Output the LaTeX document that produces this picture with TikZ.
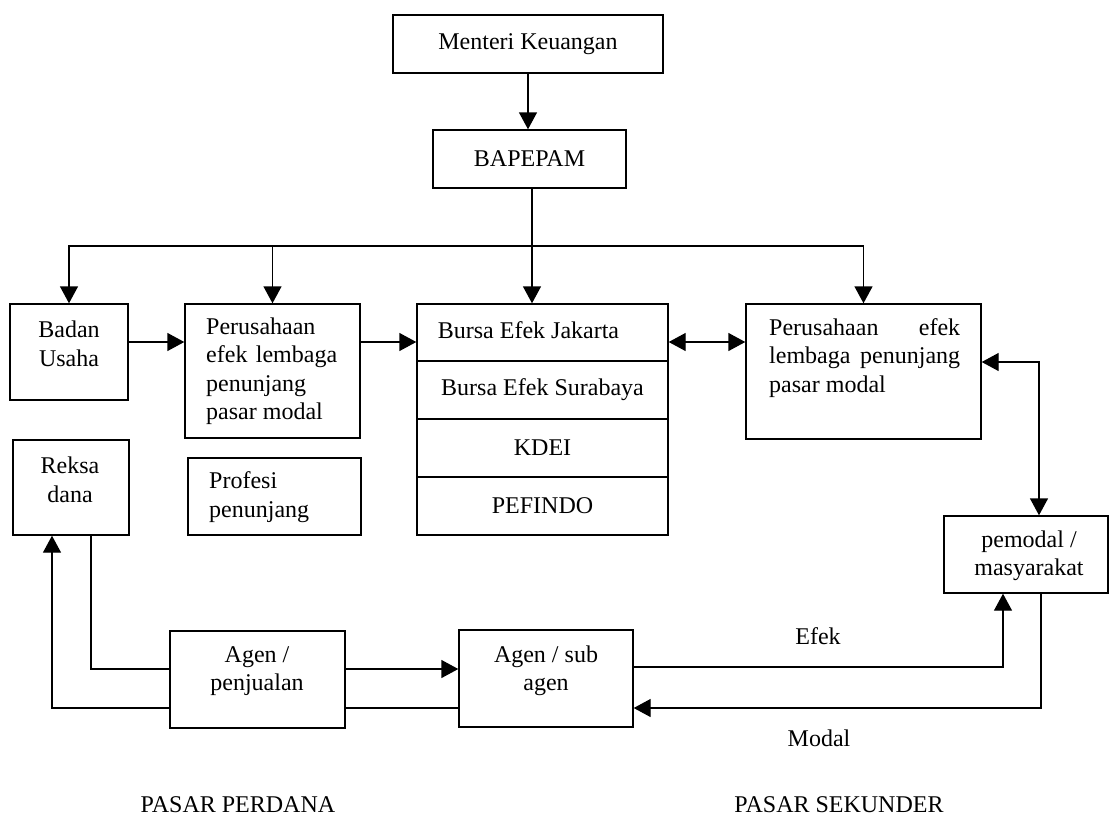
\documentclass[tikz,border=0pt]{standalone}
\usepackage{fontspec}
\setmainfont{Liberation Serif}
\usetikzlibrary{arrows.meta}
\begin{document}
\begin{tikzpicture}[x=1pt,y=-1pt,
  box/.style={draw, line width=1.4pt, rectangle, inner sep=0pt},
  lbl/.style={inner sep=0pt, font=\fontsize{24}{28.5}\selectfont},
  con/.style={line width=1.4pt},
  arr/.style={con, -{Triangle[length=17pt,width=18pt]}},
  darr/.style={con, {Triangle[length=17pt,width=18pt]}-{Triangle[length=17pt,width=18pt]}},
]
\useasboundingbox[fill=white] (0,0) rectangle (1109,820);

% boxes
\node[box,lbl,minimum width=270pt,minimum height=58pt] (mk) at (528,44) {Menteri Keuangan};
\node[box,lbl,minimum width=193pt,minimum height=58pt] (bap) at (529.5,159) {BAPEPAM};

\node[box,minimum width=118pt,minimum height=96pt] (bu) at (69,352) {};
\node[lbl,align=center] (butxt) at (69,344) {Badan\\Usaha};

\node[box,minimum width=175pt,minimum height=134pt] (pl) at (272.5,371) {};
\node[lbl,align=left,anchor=west] (pltxt) at (206,371) {Perusahaan\\\makebox[131pt][s]{efek lembaga}\\penunjang\\pasar modal};

\node[box,minimum width=251pt,minimum height=57pt] (r1) at (542.5,332.5) {};
\node[lbl] (r1txt) at (528.5,330) {Bursa Efek Jakarta};
\node[box,lbl,minimum width=251pt,minimum height=58pt] (r2) at (542.5,390) {Bursa Efek Surabaya};
\node[box,lbl,minimum width=251pt,minimum height=58pt] (r3) at (542.5,448) {KDEI};
\node[box,lbl,minimum width=251pt,minimum height=58pt] (r4) at (542.5,506) {PEFINDO};

\node[box,minimum width=235pt,minimum height=135pt] (pr) at (863.5,371.5) {};
\node[lbl,align=left,anchor=west] (prtxt) at (769,358) {\makebox[191pt][s]{Perusahaan efek}\\\makebox[191pt][s]{lembaga penunjang}\\pasar modal};

\node[box,minimum width=116pt,minimum height=95pt] (rd) at (71,487.5) {};
\node[lbl,align=center] (rdtxt) at (70,480) {Reksa\\dana};

\node[box,minimum width=173pt,minimum height=77pt] (pf) at (274.5,496.5) {};
\node[lbl,align=left,anchor=west] (pftxt) at (209,497) {Profesi\\penunjang};

\node[box,minimum width=175pt,minimum height=97pt] (ap) at (257.5,679.5) {};
\node[lbl,align=center] (aptxt) at (257,671) {Agen /\\penjualan};

\node[box,minimum width=174pt,minimum height=97pt] (as) at (546,678.5) {};
\node[lbl,align=center] (astxt) at (546,671) {Agen / sub\\agen};

\node[box,minimum width=164pt,minimum height=77pt] (pm) at (1026,554.5) {};
\node[lbl,align=center] (pmtxt) at (1029,556) {pemodal /\\masyarakat};

% connectors
\draw[arr] (mk.south) -- (mk.south |- bap.north);
\coordinate (hb) at (532,246);
\draw[arr] (bap.south -| hb) -- (r1.north -| hb);
\draw[arr] (hb) -| (bu.north);
\draw[arr] (hb) -| (pl.north);
\draw[arr] (hb) -| (pr.north);

\coordinate (L1) at (0,342);
\draw[arr] (bu.east |- L1) -- (pl.west |- L1);
\draw[arr] (pl.east |- L1) -- (r1.west |- L1);
\draw[darr] (r1.east |- L1) -- (pr.west |- L1);

\coordinate (XR) at (1039,362);
\draw[darr] (pr.east |- XR) -| (pm.north -| XR);

\coordinate (Ya) at (91,669);
\draw[con] (rd.south -| Ya) |- (ap.west |- Ya);
\draw[arr] (ap.east |- Ya) -- (as.west |- Ya);
\coordinate (Yb) at (52,708);
\draw[con] (as.west |- Yb) -- (ap.east |- Yb);
\draw[arr] (ap.west |- Yb) -| (rd.south -| Yb);

\coordinate (Ye) at (1003,667);
\draw[arr] (as.east |- Ye) -| (pm.south -| Ye);
\coordinate (Ym) at (1041,708);
\draw[arr] (pm.south -| Ym) |- (as.east |- Ym);

% labels
\node[lbl] (efek) at (818,636) {Efek};
\node[lbl] (modal) at (819,738) {Modal};
\node[lbl] (pp) at (238,805) {PASAR PERDANA};
\node[lbl] (ps) at (839,805) {PASAR SEKUNDER};
\end{tikzpicture}
\end{document}
